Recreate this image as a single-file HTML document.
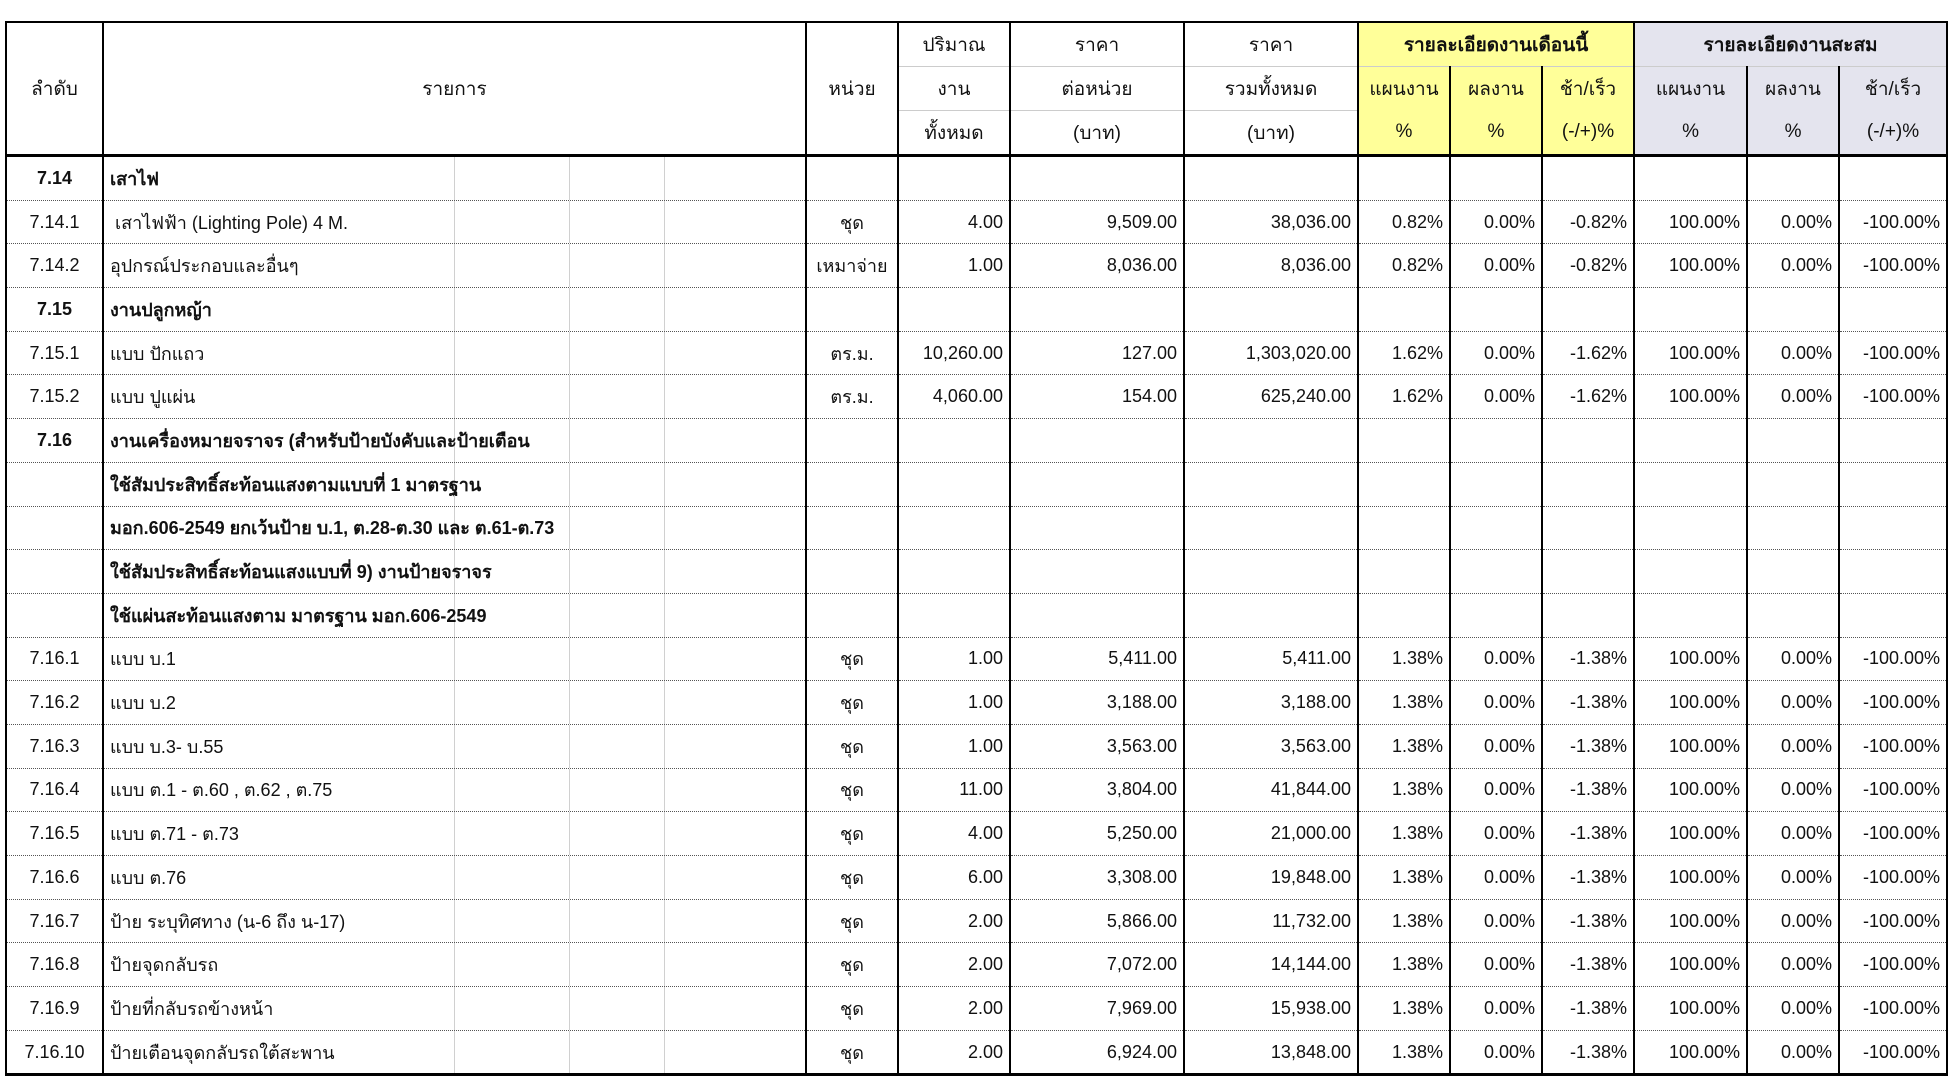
<!DOCTYPE html>
<html><head><meta charset="utf-8">
<style>
html,body{margin:0;padding:0;background:#fff;}
body{width:1958px;height:1074px;position:relative;overflow:hidden;font-family:"Liberation Sans","DejaVu Sans",sans-serif;}
table{position:absolute;left:5px;top:21px;border-collapse:collapse;table-layout:fixed;width:1941px;font-size:18px;color:#111;}
td{padding:0 6px;white-space:nowrap;overflow:hidden;border-left:2px solid #000;border-right:2px solid #000;}
thead td{height:43px;text-align:center;font-weight:normal;font-size:19px;}
thead tr.a td{border-top:2px solid #000;}
thead tr.a td.h{font-weight:bold;}
thead td.r{border-bottom:3px solid #000;}
thead tr.b td.s, thead tr.c td.s{border-top:1px solid #ccc;}
thead tr.c td{border-bottom:3px solid #000;}
.y{background:#ffff99;}
.l{background:#e4e4ee;}
tbody td{height:42.7px;border-bottom:1px dotted #555;text-align:right;}
tbody tr:last-child td{border-bottom:3px solid #000;}
tbody td.n{text-align:center;}
tbody td.d{text-align:left;background:linear-gradient(to right,transparent 350px,#d0d0d0 350px,#d0d0d0 351px,transparent 351px,transparent 465px,#d0d0d0 465px,#d0d0d0 466px,transparent 466px,transparent 560px,#d0d0d0 560px,#d0d0d0 561px,transparent 561px);}
tbody td.u{text-align:center;}
.bo{font-weight:bold;}
</style></head><body>
<table>
<colgroup><col style="width:97px"><col style="width:703px"><col style="width:92px"><col style="width:112px"><col style="width:174px"><col style="width:174px"><col style="width:92px"><col style="width:92px"><col style="width:92px"><col style="width:113px"><col style="width:92px"><col style="width:108px"></colgroup>
<thead>
<tr class="a"><td rowspan="3" class="r">ลำดับ</td><td rowspan="3" class="r">รายการ</td><td rowspan="3" class="r">หน่วย</td><td>ปริมาณ</td><td>ราคา</td><td>ราคา</td><td colspan="3" class="y h">รายละเอียดงานเดือนนี้</td><td colspan="3" class="l h">รายละเอียดงานสะสม</td></tr>
<tr class="b"><td class="s">งาน</td><td class="s">ต่อหน่วย</td><td class="s">รวมทั้งหมด</td><td class="y s">แผนงาน</td><td class="y s">ผลงาน</td><td class="y s">ช้า/เร็ว</td><td class="l s">แผนงาน</td><td class="l s">ผลงาน</td><td class="l s">ช้า/เร็ว</td></tr>
<tr class="c"><td class="s">ทั้งหมด</td><td class="s">(บาท)</td><td class="s">(บาท)</td><td class="y">%</td><td class="y">%</td><td class="y">(-/+)%</td><td class="l">%</td><td class="l">%</td><td class="l">(-/+)%</td></tr>
</thead>
<tbody>
<tr><td class="n bo">7.14</td><td class="d bo">เสาไฟ</td><td></td><td></td><td></td><td></td><td></td><td></td><td></td><td></td><td></td><td></td></tr>
<tr><td class="n">7.14.1</td><td class="d">&nbsp;เสาไฟฟ้า (Lighting Pole) 4 M.</td><td class="u">ชุด</td><td>4.00</td><td>9,509.00</td><td>38,036.00</td><td>0.82%</td><td>0.00%</td><td>-0.82%</td><td>100.00%</td><td>0.00%</td><td>-100.00%</td></tr>
<tr><td class="n">7.14.2</td><td class="d">อุปกรณ์ประกอบและอื่นๆ</td><td class="u">เหมาจ่าย</td><td>1.00</td><td>8,036.00</td><td>8,036.00</td><td>0.82%</td><td>0.00%</td><td>-0.82%</td><td>100.00%</td><td>0.00%</td><td>-100.00%</td></tr>
<tr><td class="n bo">7.15</td><td class="d bo">งานปลูกหญ้า</td><td></td><td></td><td></td><td></td><td></td><td></td><td></td><td></td><td></td><td></td></tr>
<tr><td class="n">7.15.1</td><td class="d">แบบ ปักแถว</td><td class="u">ตร.ม.</td><td>10,260.00</td><td>127.00</td><td>1,303,020.00</td><td>1.62%</td><td>0.00%</td><td>-1.62%</td><td>100.00%</td><td>0.00%</td><td>-100.00%</td></tr>
<tr><td class="n">7.15.2</td><td class="d">แบบ ปูแผ่น</td><td class="u">ตร.ม.</td><td>4,060.00</td><td>154.00</td><td>625,240.00</td><td>1.62%</td><td>0.00%</td><td>-1.62%</td><td>100.00%</td><td>0.00%</td><td>-100.00%</td></tr>
<tr><td class="n bo">7.16</td><td class="d bo">งานเครื่องหมายจราจร (สำหรับป้ายบังคับและป้ายเตือน</td><td></td><td></td><td></td><td></td><td></td><td></td><td></td><td></td><td></td><td></td></tr>
<tr><td></td><td class="d bo">ใช้สัมประสิทธิ์สะท้อนแสงตามแบบที่ 1 มาตรฐาน</td><td></td><td></td><td></td><td></td><td></td><td></td><td></td><td></td><td></td><td></td></tr>
<tr><td></td><td class="d bo">มอก.606-2549 ยกเว้นป้าย บ.1, ต.28-ต.30 และ ต.61-ต.73</td><td></td><td></td><td></td><td></td><td></td><td></td><td></td><td></td><td></td><td></td></tr>
<tr><td></td><td class="d bo">ใช้สัมประสิทธิ์สะท้อนแสงแบบที่ 9) งานป้ายจราจร</td><td></td><td></td><td></td><td></td><td></td><td></td><td></td><td></td><td></td><td></td></tr>
<tr><td></td><td class="d bo">ใช้แผ่นสะท้อนแสงตาม มาตรฐาน มอก.606-2549</td><td></td><td></td><td></td><td></td><td></td><td></td><td></td><td></td><td></td><td></td></tr>
<tr><td class="n">7.16.1</td><td class="d">แบบ บ.1</td><td class="u">ชุด</td><td>1.00</td><td>5,411.00</td><td>5,411.00</td><td>1.38%</td><td>0.00%</td><td>-1.38%</td><td>100.00%</td><td>0.00%</td><td>-100.00%</td></tr>
<tr><td class="n">7.16.2</td><td class="d">แบบ บ.2</td><td class="u">ชุด</td><td>1.00</td><td>3,188.00</td><td>3,188.00</td><td>1.38%</td><td>0.00%</td><td>-1.38%</td><td>100.00%</td><td>0.00%</td><td>-100.00%</td></tr>
<tr><td class="n">7.16.3</td><td class="d">แบบ บ.3- บ.55</td><td class="u">ชุด</td><td>1.00</td><td>3,563.00</td><td>3,563.00</td><td>1.38%</td><td>0.00%</td><td>-1.38%</td><td>100.00%</td><td>0.00%</td><td>-100.00%</td></tr>
<tr><td class="n">7.16.4</td><td class="d">แบบ ต.1 - ต.60 , ต.62 , ต.75</td><td class="u">ชุด</td><td>11.00</td><td>3,804.00</td><td>41,844.00</td><td>1.38%</td><td>0.00%</td><td>-1.38%</td><td>100.00%</td><td>0.00%</td><td>-100.00%</td></tr>
<tr><td class="n">7.16.5</td><td class="d">แบบ ต.71 - ต.73</td><td class="u">ชุด</td><td>4.00</td><td>5,250.00</td><td>21,000.00</td><td>1.38%</td><td>0.00%</td><td>-1.38%</td><td>100.00%</td><td>0.00%</td><td>-100.00%</td></tr>
<tr><td class="n">7.16.6</td><td class="d">แบบ ต.76</td><td class="u">ชุด</td><td>6.00</td><td>3,308.00</td><td>19,848.00</td><td>1.38%</td><td>0.00%</td><td>-1.38%</td><td>100.00%</td><td>0.00%</td><td>-100.00%</td></tr>
<tr><td class="n">7.16.7</td><td class="d">ป้าย ระบุทิศทาง (น-6 ถึง น-17)</td><td class="u">ชุด</td><td>2.00</td><td>5,866.00</td><td>11,732.00</td><td>1.38%</td><td>0.00%</td><td>-1.38%</td><td>100.00%</td><td>0.00%</td><td>-100.00%</td></tr>
<tr><td class="n">7.16.8</td><td class="d">ป้ายจุดกลับรถ</td><td class="u">ชุด</td><td>2.00</td><td>7,072.00</td><td>14,144.00</td><td>1.38%</td><td>0.00%</td><td>-1.38%</td><td>100.00%</td><td>0.00%</td><td>-100.00%</td></tr>
<tr><td class="n">7.16.9</td><td class="d">ป้ายที่กลับรถข้างหน้า</td><td class="u">ชุด</td><td>2.00</td><td>7,969.00</td><td>15,938.00</td><td>1.38%</td><td>0.00%</td><td>-1.38%</td><td>100.00%</td><td>0.00%</td><td>-100.00%</td></tr>
<tr><td class="n">7.16.10</td><td class="d">ป้ายเตือนจุดกลับรถใต้สะพาน</td><td class="u">ชุด</td><td>2.00</td><td>6,924.00</td><td>13,848.00</td><td>1.38%</td><td>0.00%</td><td>-1.38%</td><td>100.00%</td><td>0.00%</td><td>-100.00%</td></tr>
</tbody>
</table>
</body></html>
